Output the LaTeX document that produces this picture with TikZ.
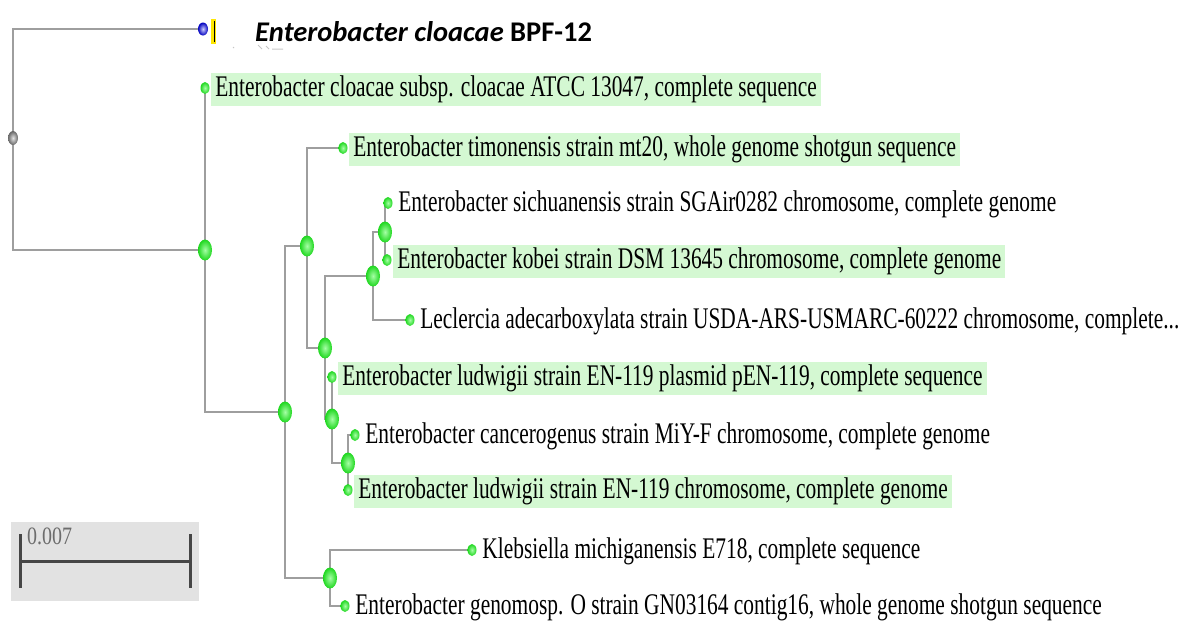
\documentclass[tikz,border=0pt]{standalone}
\usepackage{fontspec}
\usepackage{graphicx}
\setmainfont{Liberation Serif}
\newfontfamily\calib{Carlito}
\usetikzlibrary{shapes.geometric,backgrounds}
\definecolor{hl}{RGB}{212,248,210}
\definecolor{edgec}{RGB}{158,158,158}
\definecolor{gball}{RGB}{30,215,30}
\definecolor{sbg}{RGB}{226,226,226}
\definecolor{sbar}{RGB}{70,70,70}
\newcommand{\lab}[1]{\scalebox{1}[1.4]{#1}}
\begin{document}
\begin{tikzpicture}[x=1pt,y=-1pt,
  leaf/.style={ellipse, minimum width=9pt, minimum height=12pt, inner sep=0pt,
    shading=radial, inner color=green!35!white, outer color=gball},
  inode/.style={leaf, minimum width=14pt, minimum height=21pt},
  rootnode/.style={leaf, minimum width=10pt, minimum height=14pt,
    inner color=gray!20!white, outer color=gray!80!black},
  bluenode/.style={leaf, minimum width=10pt, minimum height=13pt,
    inner color=blue!20!white, outer color=blue!75!black},
  txt/.style={anchor=west, inner xsep=4pt, inner ysep=0pt, minimum height=33pt,
    font=\fontsize{21.4}{24}\selectfont, text=black, xshift=1.5pt, yshift=-1.5pt},
  hltxt/.style={txt, fill=hl},
  br/.style={draw=edgec, line width=2pt}
]
\useasboundingbox (0,0) rectangle (1179,625);

% internal nodes
\node[rootnode] (root) at (13,138) {};
\node[inode] (A) at (205,250) {};
\node[inode] (B) at (285,412) {};
\node[inode] (C) at (307,246) {};
\node[inode] (D) at (325,348) {};
\node[inode] (E) at (373,276) {};
\node[inode] (E1) at (385,232) {};
\node[inode] (G) at (332,419) {};
\node[inode] (H) at (348,463) {};
\node[inode] (K) at (330,578) {};

% leaves
\node[bluenode] (bpf) at (203,29) {};
\node[leaf] (atcc) at (205,88) {};
\node[leaf] (timo) at (343,148) {};
\node[leaf] (sich) at (388,203) {};
\node[leaf] (kobei) at (387,260) {};
\node[leaf] (lecl) at (410,320) {};
\node[leaf] (ludp) at (332,377) {};
\node[leaf] (canc) at (355,435) {};
\node[leaf] (ludc) at (348,490) {};
\node[leaf] (kleb) at (472,550) {};
\node[leaf] (geno) at (345,606) {};

% labels
\node[hltxt] (latcc) at (atcc.east) {\lab{Enterobacter cloacae subsp. cloacae ATCC 13047, complete sequence}};
\node[hltxt] (ltimo) at (timo.east) {\lab{Enterobacter timonensis strain mt20, whole genome shotgun sequence}};
\node[txt] (lsich) at (sich.east) {\lab{Enterobacter sichuanensis strain SGAir0282 chromosome, complete genome}};
\node[hltxt] (lkobei) at (kobei.east) {\lab{Enterobacter kobei strain DSM 13645 chromosome, complete genome}};
\node[txt] (llecl) at (lecl.east) {\lab{Leclercia adecarboxylata strain USDA-ARS-USMARC-60222 chromosome, complete...}};
\node[hltxt] (lludp) at (ludp.east) {\lab{Enterobacter ludwigii strain EN-119 plasmid pEN-119, complete sequence}};
\node[txt] (lcanc) at (canc.east) {\lab{Enterobacter cancerogenus strain MiY-F chromosome, complete genome}};
\node[hltxt] (lludc) at (ludc.east) {\lab{Enterobacter ludwigii strain EN-119 chromosome, complete genome}};
\node[txt] (lkleb) at (kleb.east) {\lab{Klebsiella michiganensis E718, complete sequence}};
\node[txt] (lgeno) at (geno.east) {\lab{Enterobacter genomosp. O strain GN03164 contig16, whole genome shotgun sequence}};

\node[anchor=west, inner sep=0pt, font=\calib\fontsize{28.5}{32}\selectfont] (lbpf) at (255,32)
  {\bfseries\itshape Enterobacter cloacae\/ \upshape BPF-12};

% marker next to query
\fill[yellow!90!orange] (211,19) rectangle (216,44);
\draw[black, line width=1.6pt] (214.5,21) -- (214.5,42);
\draw[gray!45, line width=1pt] (233,47) -- (234,48) (258,45) -- (262,49) (266,46) -- (269,49) (272,49) -- (283,49);

% branches
\begin{scope}[on background layer]
\draw[br] (root.center) |- (bpf.center);
\draw[br] (root.center) |- (A.center);
\draw[br] (A.center) |- (atcc.center);
\draw[br] (A.center) |- (B.center);
\draw[br] (B.center) |- (C.center);
\draw[br] (B.center) |- (K.center);
\draw[br] (C.center) |- (timo.center);
\draw[br] (C.center) |- (D.center);
\draw[br] (D.center) |- (E.center);
\draw[br] (D.center) |- (G.center);
\draw[br] (E.center) |- (E1.center);
\draw[br] (E.center) |- (lecl.center);
\draw[br] (E1.center) |- (sich.center);
\draw[br] (E1.center) |- (kobei.center);
\draw[br] (G.center) |- (ludp.center);
\draw[br] (G.center) |- (H.center);
\draw[br] (H.center) |- (canc.center);
\draw[br] (H.center) |- (ludc.center);
\draw[br] (K.center) |- (kleb.center);
\draw[br] (K.center) |- (geno.center);
\end{scope}

% scale bar
\fill[sbg] (11,522) rectangle (199,601);
\draw[sbar, line width=3pt] (20,561) -- (190,561);
\draw[sbar, line width=3pt] (20,534) -- (20,588);
\draw[sbar, line width=3pt] (190,534) -- (190,588);
\node[anchor=west, inner sep=0pt, text=gray!85!black, font=\fontsize{20}{22}\selectfont] (sblab) at (27,536) {\scalebox{1}[1.25]{0.007}};
\end{tikzpicture}
\end{document}
